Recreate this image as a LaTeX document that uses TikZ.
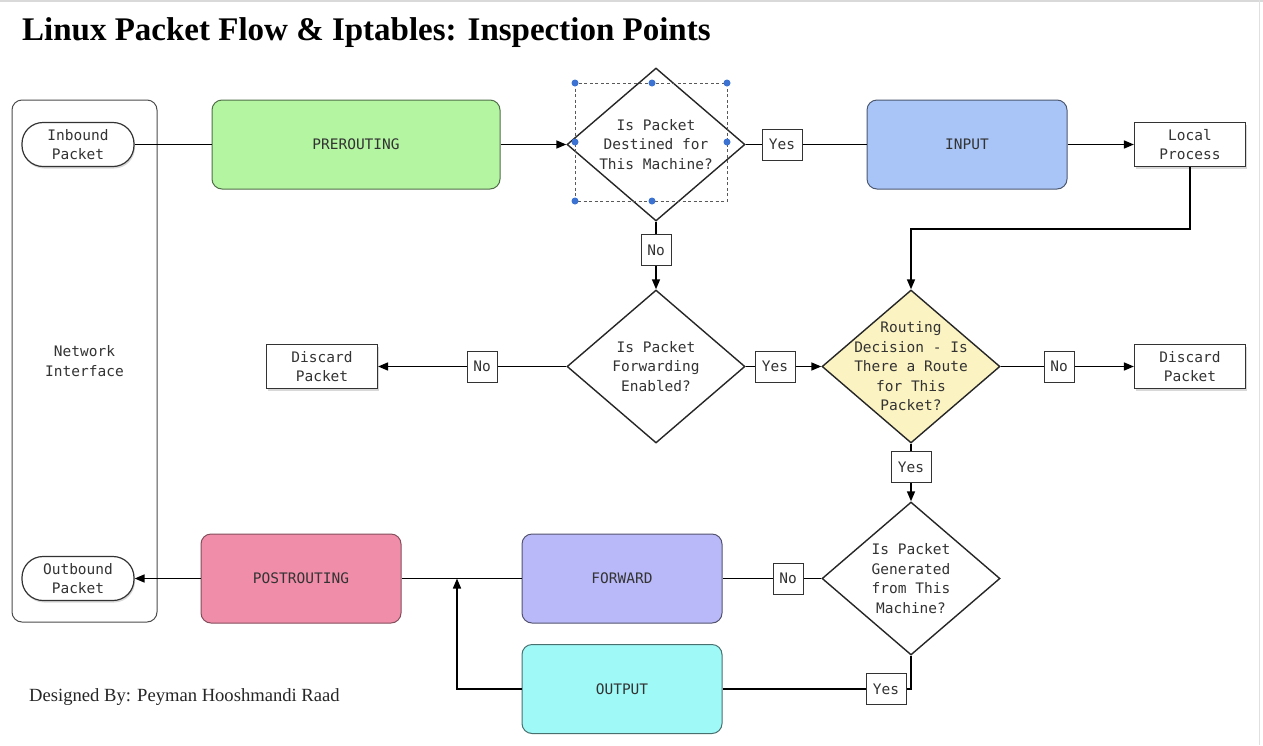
\documentclass[tikz,border=0pt]{standalone}
\usepackage{fontspec}
\setmonofont{DejaVu Sans Mono}
\newfontfamily\titlefont{Liberation Serif}
\usetikzlibrary{shapes.geometric,arrows.meta,shadows,calc}
\definecolor{cpre}{HTML}{B3F5A1}
\definecolor{cin}{HTML}{A9C5F8}
\definecolor{cpost}{HTML}{F08DA9}
\definecolor{cfwd}{HTML}{B9B9F9}
\definecolor{cout}{HTML}{9FF9F7}
\definecolor{cdec}{HTML}{FBF3C2}
\definecolor{handle}{HTML}{3C72D2}
\begin{document}
\begin{tikzpicture}[x=1pt,y=-1pt,
  base/.style={font=\ttfamily\fontsize{14.5}{19.5}\selectfont, text=black!80, align=center, inner sep=0pt},
  chainbox/.style={base, draw=#1!45!black, line width=1pt, fill=#1, rounded corners=10pt, minimum width=200pt, minimum height=89pt},
  plainbox/.style={base, draw=black!80, line width=1.2pt, fill=white, minimum width=111pt, minimum height=44pt,
     drop shadow={opacity=0.3, shadow xshift=1pt, shadow yshift=-2pt}},
  pill/.style={plainbox, rounded corners=21pt, minimum width=112pt},
  tagbox/.style={base, draw=black!80, line width=1pt, fill=white, minimum height=31pt, minimum width=#1},
  tagbox/.default=30pt,
  dia/.style={diamond, draw=black!85, line width=1.4pt, fill=#1, minimum width=178pt, minimum height=153pt, inner sep=0pt},
  dia/.default=white,
  dtext/.style={base, inner sep=0pt},
  conn/.style={line width=1.6pt, black},
  arr/.style={conn, -{Triangle[length=10pt,width=8pt]}},
  hdot/.style={circle, fill=handle, inner sep=0pt, minimum size=7pt}
]
\useasboundingbox (0,0) rectangle (1263,745);
\fill[white] (0,0) rectangle (1263,745);
\draw[black!15, line width=2pt] (0,1) -- (1263,1);
\draw[black!12, line width=1pt] (1259,0) -- (1259,745);

% title and footer
\node[anchor=west, inner sep=0pt, font=\titlefont\bfseries\fontsize{33}{33}\selectfont] (title) at (22,33) {Linux Packet Flow \& Iptables: Inspection Points};
\node[anchor=west, inner sep=0pt, text=black!85, font=\titlefont\fontsize{18.6}{18.6}\selectfont] (footer) at (29,697) {Designed By: Peyman Hooshmandi Raad};

% network interface container
\node[base, draw=black!70, line width=1pt, rounded corners=10pt, minimum width=145pt, minimum height=522pt] (ni) at (84.5,361) {Network\\Interface};
\node[pill] (inb) at (78,144.5) {Inbound\\Packet};
\node[pill] (outb) at (78,578.5) {Outbound\\Packet};

% chain boxes
\node[chainbox=cpre, minimum width=288pt] (pre) at (356,144.5) {PREROUTING};
\node[chainbox=cin] (input) at (967,144.5) {INPUT};
\node[chainbox=cpost, draw=cpost!55!black] (post) at (301,578.5) {POSTROUTING};
\node[chainbox=cfwd] (fwd) at (622,578.5) {FORWARD};
\node[chainbox=cout] (output) at (622,689) {OUTPUT};

% plain boxes
\node[plainbox] (lp) at (1190,144.5) {Local\\Process};
\node[plainbox] (disl) at (322,366.5) {Discard\\Packet};
\node[plainbox] (disr) at (1190,366.5) {Discard\\Packet};

% decisions
\node[dia, label={[dtext]center:{Is Packet\\Destined for\\This Machine?}}] (d1) at (656,144.5) {};
\node[dia, label={[dtext]center:{Is Packet\\Forwarding\\Enabled?}}] (d2) at (656,366.5) {};
\node[dia=cdec, label={[dtext]center:{Routing\\Decision - Is\\There a Route\\for This\\Packet?}}] (d3) at (911,366.5) {};
\node[dia, label={[dtext]center:{Is Packet\\Generated\\from This\\Machine?}}] (d4) at (911,578.5) {};

% tags
\node[tagbox=40pt] (y1) at (782,144.5) {Yes};
\node[tagbox] (n1) at (656,250) {No};
\node[tagbox] (n2) at (482,366.5) {No};
\node[tagbox=40pt] (y2) at (775,366.5) {Yes};
\node[tagbox] (n3) at (1059,366.5) {No};
\node[tagbox=40pt] (y3) at (911,467) {Yes};
\node[tagbox] (n4) at (788,578.5) {No};
\node[tagbox=40pt] (y4) at (886,689) {Yes};

% connectors
\draw[conn] (inb.east) -- (pre.west);
\draw[arr] (pre.east) -- (d1.west);
\draw[conn] (d1.east) -- (y1.west);
\draw[conn] (y1.east) -- (input.west);
\draw[arr] (input.east) -- (lp.west);
\coordinate (lpk) at (1190,229);
\draw[arr] (lp.south) -- (lpk) -| (d3.north);
\draw[conn] (d1.south) -- (n1.north);
\draw[arr] (n1.south) -- (d2.north);
\draw[conn] (d2.west) -- (n2.east);
\draw[arr] (n2.west) -- (disl.east);
\draw[conn] (d2.east) -- (y2.west);
\draw[arr] (y2.east) -- (d3.west);
\draw[conn] (d3.east) -- (n3.west);
\draw[arr] (n3.east) -- (disr.west);
\draw[conn] (d3.south) -- (y3.north);
\draw[arr] (y3.south) -- (d4.north);
\draw[conn] (d4.west) -- (n4.east);
\draw[conn] (n4.west) -- (fwd.east);
\draw[conn] (fwd.west) -- (post.east);
\draw[arr] (post.west) -- (outb.east);
\draw[conn] (d4.south) |- (y4.east);
\draw[conn] (y4.west) -- (output.east);
\coordinate (jn) at (457,578.5);
\draw[arr] (output.west) -| (jn);

% selection handles around first decision
\draw[black!65, line width=0.9pt, dash pattern=on 3pt off 2.5pt] (575,83) rectangle (727,201);
\foreach \px/\py in {575/83,652/83,727/83,575/142,727/142,575/201,652/201}
  \node[hdot] at (\px,\py) {};
\end{tikzpicture}
\end{document}
